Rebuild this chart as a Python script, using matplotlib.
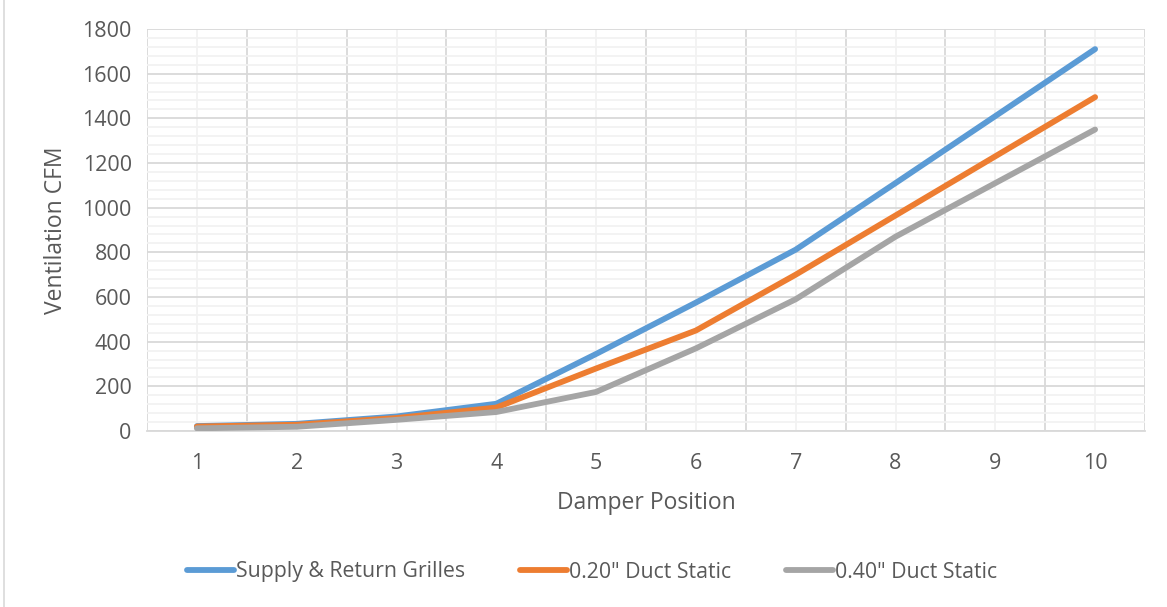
import matplotlib.pyplot as plt
from matplotlib.lines import Line2D
import numpy as np

plt.rcParams['font.family'] = ['Open Sans', 'DejaVu Sans']

positions = [1, 2, 3, 4, 5, 6, 7, 8, 9, 10]
grilles = [22, 32, 65, 122, 345, 575, 812, 1110, 1410, 1710]
duct_020 = [20, 28, 58, 105, 280, 450, 700, 965, 1230, 1495]
duct_040 = [12, 19, 50, 85, 175, 370, 590, 870, 1110, 1350]

labels = ['Supply & Return Grilles', '0.20" Duct Static', '0.40" Duct Static']
colors = ['#5B9BD5', '#ED7D31', '#A5A5A5']
txt = '#595959'

fig = plt.figure(figsize=(11.67, 6.07), dpi=100)
ax = fig.add_axes([147 / 1167, 1 - 431 / 607, 998 / 1167, 402 / 607])

for ys, c, lab in zip([grilles, duct_020, duct_040], colors, labels):
    ax.plot(positions, ys, color=c, lw=4.2, label=lab, solid_capstyle='round',
            solid_joinstyle='round', zorder=3)

ax.set_xlim(0.5, 10.5)
ax.set_ylim(0, 1800)
ax.set_xticks(positions)
ax.set_xticks(np.arange(0.5, 11, 1), minor=True)
ax.set_yticks(range(0, 1801, 200))
ax.set_yticks(range(0, 1801, 40), minor=True)

ax.grid(which='major', axis='y', color='#D9D9D9', lw=1.3)
ax.grid(which='minor', axis='y', color='#F2F2F2', lw=1.3)
ax.grid(which='minor', axis='x', color='#D9D9D9', lw=1.3)
ax.grid(which='major', axis='x', color='#F2F2F2', lw=1.3)
ax.set_axisbelow(True)

for s in ['top', 'right', 'left']:
    ax.spines[s].set_visible(False)
ax.spines['bottom'].set_color('#D9D9D9')
ax.spines['bottom'].set_linewidth(1.3)

ax.tick_params(which='both', length=0, colors=txt, labelsize=15.5)
ax.tick_params(axis='x', pad=16)
ax.tick_params(axis='y', pad=11)

ax.set_xlabel('Damper Position', color=txt, fontsize=16.5, labelpad=12)
ax.set_ylabel('Ventilation CFM', color=txt, fontsize=16.5, labelpad=10)

handles = [Line2D([0], [0], color=c, lw=4.2, solid_capstyle='round') for c in colors]
fig.legend(handles, labels, loc='center', bbox_to_anchor=(592 / 1167, 1 - 572 / 607),
           ncol=3, frameon=False, fontsize=15.3, handlelength=2.2, handletextpad=0.1,
           columnspacing=2.6, labelcolor=txt)

fig.add_artist(Line2D([4 / 1167, 4 / 1167], [0, 1], color='#D9D9D9', lw=1.2))

fig.savefig('out.png', dpi=100)
